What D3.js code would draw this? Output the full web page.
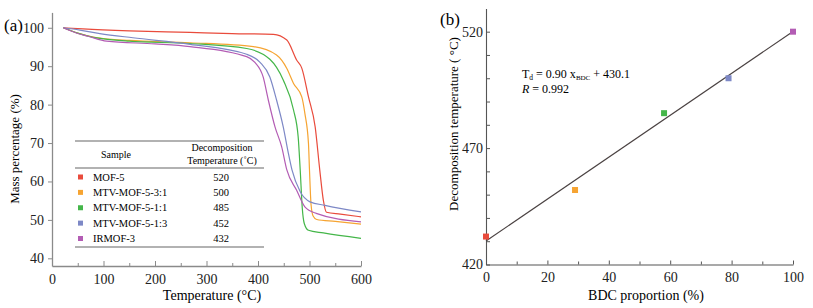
<!DOCTYPE html>
<html lang="en">
<head>
<meta charset="UTF-8">
<title>TGA and decomposition temperature</title>
<style>
  body { margin: 0; background: #fff; }
  svg text { font-family: "Liberation Serif", "Times New Roman", serif; }
</style>
</head>
<body>
<svg id="chart"></svg>
<script src="https://d3js.org/d3.v7.min.js"></script>
<script>
// sample names, colours and decomposition temperatures (table in panel a)
const sampleNames = ['MOF-5', 'MTV-MOF-5-3:1', 'MTV-MOF-5-1:1', 'MTV-MOF-5-1:3', 'IRMOF-3'];
const sampleColors = ['#e94b3c', '#f6a432', '#44b649', '#7d88c6', '#b35cb4'];
const decompTemps = [520, 500, 485, 452, 432];

// TGA curves: [temperature (°C), mass (%)]
const mof5 = [[22,100],[60,99.7],[150,99.2],[268,98.8],[350,98.5],[430,98.3],[456,96.8],[475,91.6],
  [485,89.5],[498,82],[511,74.2],[520,62.9],[527,55],[533,52.0],[560,51.5],[600,50.8]];
const mtv31 = [[22,100],[50,98.6],[80,97.6],[100,97.2],[150,96.7],[268,96.1],[391,95.1],[436,92.9],
  [456,89.4],[469,85.5],[485,82],[491,77.7],[498,69.9],[500,62.9],[503,54],[507,51],[514,50.1],[550,49.6],[600,48.9]];
const mtv11 = [[22,100],[50,98.6],[80,97.5],[100,97.1],[150,96.5],[268,95.9],[378,94.6],[423,91.8],
  [449,86.4],[469,78.6],[478,71.6],[482,62.9],[486,53],[490,49],[498,47.3],[527,46.6],[600,45.2]];
const mtv13 = [[22,100],[54,99.4],[93,98.5],[157,97.4],[268,95.7],[378,93.1],[404,91.0],[423,87.2],
  [436,81.2],[449,74.2],[459,67.3],[466,63],[482,57.3],[501,54.7],[530,53.8],[600,52.1]];
const irmof3 = [[22,100],[50,98.5],[70,97.8],[106,96.5],[200,95.8],[268,95.1],[378,92.5],[394,91],
  [410,87.2],[420,81.2],[433,74.2],[446,69],[456,63],[475,57.7],[491,53.4],[513,51.7],[600,49.5]];
const tgaSeries = [mof5, mtv31, mtv11, mtv13, irmof3];

// panel b: BDC proportion vs decomposition temperature
const bdcProportion = [0, 29, 58, 79, 100];
const bdcDecomp = [432, 452, 485, 500, 520];
const bdcColors = ['#e94b3c', '#f6a432', '#44b649', '#7d88c6', '#b35cb4'];
const fitSlope = 0.90, fitIntercept = 430.1;

const svg = d3.select('#chart').attr('width', 813).attr('height', 308);

// ---------- panel (a) ----------
const xA = d3.scaleLinear().domain([0, 600]).range([52, 361]);
const yA = d3.scaleLinear().domain([38, 104]).range([266, 12.4]);
const greyA = '#8a8a8a';

const gxA = svg.append('g').attr('transform', `translate(0,${yA(38)})`)
  .call(d3.axisBottom(xA).tickValues(d3.range(0, 601, 50)).tickSize(-5).tickSizeOuter(0).tickPadding(8)
    .tickFormat(d => d % 100 === 0 ? d : ''));
gxA.selectAll('.tick line').attr('y2', d => d % 100 === 0 ? -5 : -3);
const gyA = svg.append('g').attr('transform', `translate(${xA(0)},0)`)
  .call(d3.axisLeft(yA).tickValues(d3.range(40, 101, 10)).tickSize(4).tickSizeOuter(0).tickPadding(4));
[gxA, gyA].forEach(g => {
  g.select('.domain').attr('stroke', greyA).attr('stroke-width', 1.3);
  g.selectAll('.tick line').attr('stroke', greyA);
  g.selectAll('.tick text').attr('font-family', '"Liberation Serif", serif').attr('font-size', 14).attr('fill', '#222');
});

const lineA = d3.line().x(d => xA(d[0])).y(d => yA(d[1])).curve(d3.curveMonotoneX);
svg.append('g').selectAll('path').data(tgaSeries).join('path')
  .attr('d', lineA).attr('fill', 'none')
  .attr('stroke', (d, i) => sampleColors[i]).attr('stroke-width', 1.2);

svg.append('text').attr('x', 4).attr('y', 31).attr('font-size', 17).text('(a)');
svg.append('text').attr('transform', 'translate(19,149) rotate(-90)')
  .attr('text-anchor', 'middle').attr('font-size', 13).text('Mass percentage (%)');
svg.append('text').attr('x', 212).attr('y', 300).attr('text-anchor', 'middle')
  .attr('font-size', 14).text('Temperature (°C)');

// table inside panel a
const table = svg.append('g');
const tL = 75, tR = 264;
[141, 168, 247].forEach(yy => table.append('line').attr('x1', tL).attr('x2', tR)
  .attr('y1', yy).attr('y2', yy).attr('stroke', '#666').attr('stroke-width', 1.2));
table.append('text').attr('x', 116).attr('y', 158).attr('text-anchor', 'middle').attr('font-size', 10).text('Sample');
table.append('text').attr('x', 222).attr('y', 151).attr('text-anchor', 'middle').attr('font-size', 10).text('Decomposition');
table.append('text').attr('x', 222).attr('y', 164).attr('text-anchor', 'middle').attr('font-size', 10).text('Temperature (˚C)');
const rowY = d3.scaleLinear().domain([0, 4]).range([177, 238.5]);
const rows = table.selectAll('g.row').data(sampleNames).join('g').attr('class', 'row')
  .attr('transform', (d, i) => `translate(0,${rowY(i)})`);
rows.append('rect').attr('x', 78).attr('y', -2.5).attr('width', 5).attr('height', 5)
  .attr('fill', (d, i) => sampleColors[i]);
rows.append('text').attr('x', 93).attr('y', 3.5).attr('font-size', 10.5).text(d => d);
rows.append('text').attr('x', 221).attr('y', 3.5).attr('text-anchor', 'middle').attr('font-size', 10.5)
  .text((d, i) => decompTemps[i]);

// ---------- panel (b) ----------
const xB = d3.scaleLinear().domain([0, 100]).range([486, 793]);
const yB = d3.scaleLinear().domain([420, 530]).range([264.5, 8.4]);
const greyB = '#555';

const gxB = svg.append('g').attr('transform', `translate(0,${yB(420)})`)
  .call(d3.axisBottom(xB).tickValues(d3.range(0, 101, 10)).tickSize(-4).tickSizeOuter(0).tickPadding(8)
    .tickFormat(d => d % 20 === 0 ? d : ''));
gxB.selectAll('.tick line').attr('y2', d => d % 20 === 0 ? -4 : -3);
const gyB = svg.append('g').attr('transform', `translate(${xB(0)},0)`)
  .call(d3.axisLeft(yB).tickValues(d3.range(420, 530, 10)).tickSize(-4).tickSizeOuter(0).tickPadding(3)
    .tickFormat(d => (d - 420) % 50 === 0 ? d : ''));
[gxB, gyB].forEach(g => {
  g.select('.domain').attr('stroke', greyB).attr('stroke-width', 1.1);
  g.selectAll('.tick line').attr('stroke', greyB);
  g.selectAll('.tick text').attr('font-family', '"Liberation Serif", serif').attr('font-size', 14).attr('fill', '#222');
});

svg.append('line')
  .attr('x1', xB(0)).attr('y1', yB(fitIntercept))
  .attr('x2', xB(100)).attr('y2', yB(fitSlope * 100 + fitIntercept))
  .attr('stroke', '#4a4242').attr('stroke-width', 1.2);

svg.append('g').selectAll('rect').data(bdcProportion).join('rect')
  .attr('x', (d, i) => xB(d) - 3).attr('y', (d, i) => yB(bdcDecomp[i]) - 3)
  .attr('width', 6).attr('height', 6).attr('fill', (d, i) => bdcColors[i]);

const eq = svg.append('text').attr('x', 522).attr('y', 78).attr('font-size', 12);
eq.append('tspan').text('T');
eq.append('tspan').attr('font-size', 7.5).attr('dy', 1.5).text('d');
eq.append('tspan').attr('dy', -1.5).text(' = 0.90 x');
eq.append('tspan').attr('font-size', 7).attr('dy', 1.5).text('BDC');
eq.append('tspan').attr('dy', -1.5).text(' + 430.1');
const rt = svg.append('text').attr('x', 522).attr('y', 93).attr('font-size', 12);
rt.append('tspan').attr('font-style', 'italic').text('R');
rt.append('tspan').text('  = 0.992');

svg.append('text').attr('x', 440).attr('y', 25).attr('font-size', 17).text('(b)');
svg.append('text').attr('transform', 'translate(458,124) rotate(-90)')
  .attr('text-anchor', 'middle').attr('font-size', 13).text('Decomposition temperature ( °C)');
svg.append('text').attr('x', 646).attr('y', 300).attr('text-anchor', 'middle')
  .attr('font-size', 14).text('BDC proportion (%)');
</script>
</body>
</html>
